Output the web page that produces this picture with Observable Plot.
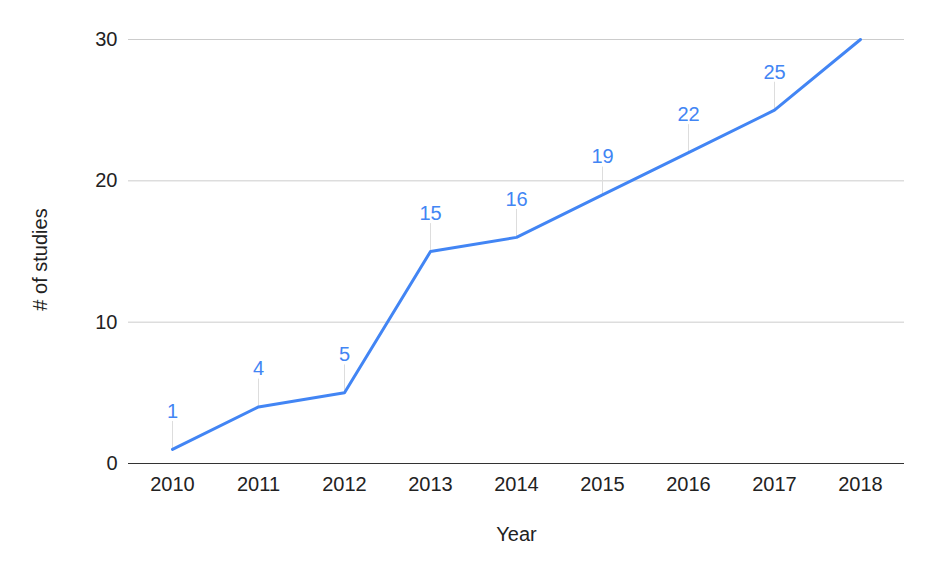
<!DOCTYPE html>
<html>
<head>
<meta charset="utf-8">
<script src="https://cdn.jsdelivr.net/npm/d3@7"></script>
<script src="https://cdn.jsdelivr.net/npm/@observablehq/plot@0.6"></script>
<style>
  html, body { margin: 0; padding: 0; background: #fff; }
  svg { font-family: "Liberation Sans", Arial, sans-serif; }
</style>
</head>
<body>
<div id="chart"></div>
<script>
const years = ["2010", "2011", "2012", "2013", "2014", "2015", "2016", "2017", "2018"];
const studies = [1, 4, 5, 15, 16, 19, 22, 25, 30];
const labeled = [true, true, true, true, true, true, true, true, false];
const yTicks = [0, 10, 20, 30];
const xTitle = "Year";
const yTitle = "# of studies";

const data = years.map((y, i) => ({year: y, value: studies[i], show: labeled[i]}));
const shown = data.filter(d => d.show);

const leader = {
  draw(context, l) {
    context.moveTo(0, 0);
    context.lineTo(0, -l);
  }
};

const chart = Plot.plot({
  width: 933,
  height: 577,
  marginLeft: 128,
  marginRight: 29,
  marginTop: 39,
  marginBottom: 114,
  style: {fontSize: "20px", fontFamily: "'Liberation Sans', Arial, sans-serif", color: "#222", background: "#fff"},
  x: {type: "point", domain: years, padding: 0.5, label: null},
  y: {domain: [0, 30], label: null},
  marks: [
    Plot.gridY(yTicks, {stroke: "#ccc", strokeOpacity: 1, strokeWidth: 1}),
    Plot.axisY(yTicks, {tickSize: 0, tickPadding: 11, fill: "#222", label: null, fontSize: 20}),
    Plot.axisX({tickSize: 0, tickPadding: 13, fill: "#222", label: null, fontSize: 20}),
    Plot.ruleY([0], {stroke: "#333", strokeWidth: 1.2}),
    Plot.vector(shown, {x: "year", y: "value", length: 28, rotate: 0, anchor: "start", shape: leader, stroke: "#ddd", strokeWidth: 1}),
    Plot.line(data, {x: "year", y: "value", stroke: "#4285f4", strokeWidth: 3, strokeLinejoin: "round", strokeLinecap: "round"}),
    Plot.text(shown, {x: "year", y: "value", text: d => String(d.value), dy: -38, fill: "#4285f4", fontSize: 20}),
    Plot.text([xTitle], {frameAnchor: "bottom", dy: 71, textAnchor: "middle", lineAnchor: "middle", fill: "#222", fontSize: 20}),
    Plot.text([yTitle], {frameAnchor: "left", dx: -88, dy: 8, rotate: -90, textAnchor: "middle", lineAnchor: "middle", fill: "#222", fontSize: 20})
  ]
});
document.getElementById("chart").appendChild(chart);
</script>
</body>
</html>
